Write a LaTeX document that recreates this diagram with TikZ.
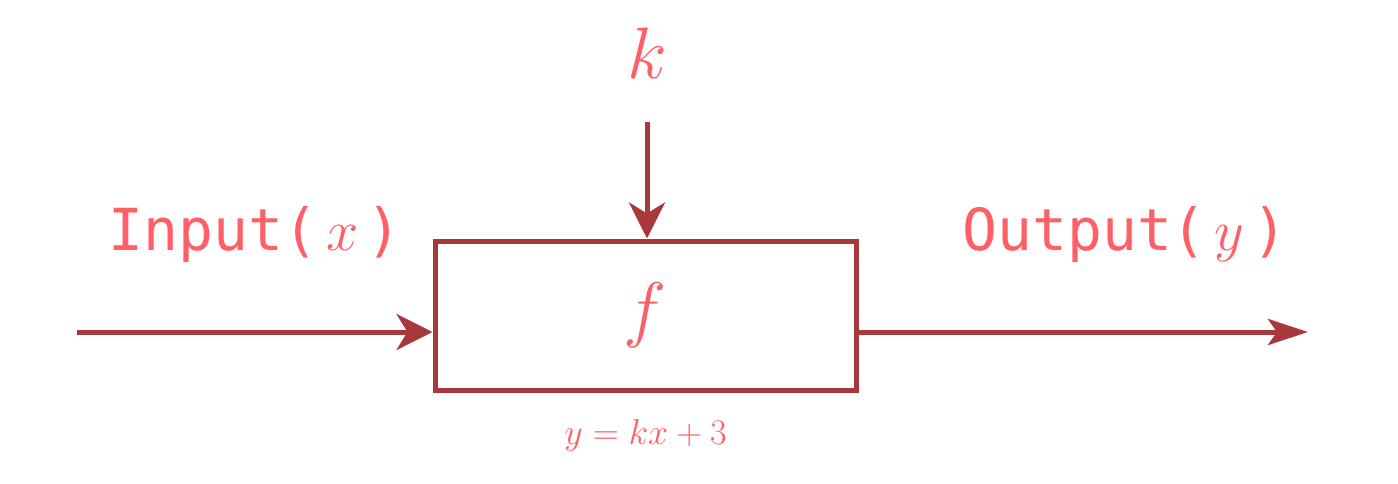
\RequirePackage{fix-cm}
\documentclass[tikz,border=0pt]{standalone}
\usepackage{fontspec}
\setmonofont{DejaVu Sans Mono}
\usetikzlibrary{arrows.meta}
\definecolor{linec}{HTML}{A8383C}
\definecolor{textc}{HTML}{FF5F66}
\tikzset{
  conn/.style={draw=linec, line width=5pt, -{Stealth[length=36pt,width=36pt,inset=11pt]}},
  connslim/.style={draw=linec, line width=5pt, -{Stealth[length=40pt,width=26pt,inset=9pt]}},
  blockbox/.style={draw=linec, line width=5pt, minimum width=421pt, minimum height=149pt, inner sep=0pt, text=textc, font=\fontsize{73}{80}\selectfont},
  lbl/.style={text=textc, inner sep=0pt, anchor=base},
  monolbl/.style={lbl, font=\ttfamily\fontsize{58}{64}\selectfont}
}
\begin{document}
\begin{tikzpicture}[x=1pt,y=-1pt]
\useasboundingbox (0,0) rectangle (1398,483);
\node[blockbox] (box) at (645.5,315.5) {$f$};
\coordinate (in) at (77,332);
\coordinate (out) at (1308,332);
\coordinate (kin) at (647,122);
\draw[conn] (in) -- (in -| box.west);
\draw[connslim] (out -| box.east) -- (out);
\draw[conn] (kin) -- (kin |- box.north);
\node[lbl, font=\fontsize{73}{80}\selectfont] (klbl) at (647,78) {$k$};
\node[monolbl] (inlbl) at (255,250) {Input(\hspace{8pt}$x$\hspace{8pt})};
\node[monolbl] (outlbl) at (1125,250) {Output(\hspace{8pt}$y$\hspace{8pt})};
\node[lbl, font=\fontsize{36}{40}\selectfont] (eq) at (645.5,444) {$y=kx+3$};
\end{tikzpicture}
\end{document}
